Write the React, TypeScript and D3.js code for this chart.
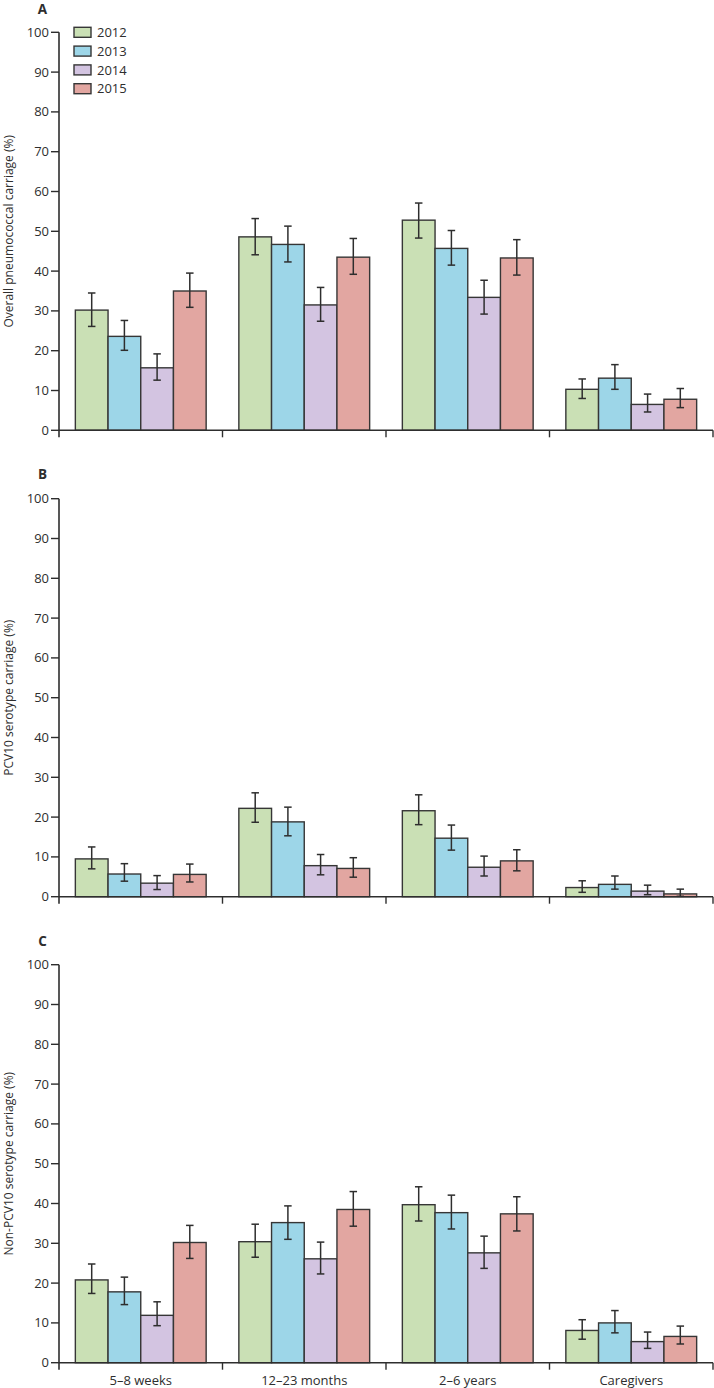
import React from "react";
import * as d3 from "d3";

const categories = ["5–8 weeks", "12–23 months", "2–6 years", "Caregivers"];
const years = ["2012", "2013", "2014", "2015"];
const colors = ["#cae0b5", "#9dd6e8", "#d3c4e1", "#e2a6a1"];
const yTicks = [0, 10, 20, 30, 40, 50, 60, 70, 80, 90, 100];

// values[year][category]
const overallValues = [
  [30.2, 48.6, 52.8, 10.3],
  [23.6, 46.7, 45.7, 13.1],
  [15.7, 31.5, 33.4, 6.5],
  [35.0, 43.5, 43.3, 7.8],
];
const overallLower = [
  [26.1, 44.1, 48.3, 8.0],
  [20.1, 42.3, 41.5, 10.3],
  [12.6, 27.4, 29.2, 4.6],
  [30.9, 39.2, 39.0, 5.7],
];
const overallUpper = [
  [34.5, 53.2, 57.1, 12.9],
  [27.6, 51.3, 50.2, 16.5],
  [19.2, 35.9, 37.7, 9.1],
  [39.5, 48.2, 47.9, 10.5],
];

const pcvValues = [
  [9.5, 22.2, 21.6, 2.3],
  [5.7, 18.8, 14.7, 3.1],
  [3.4, 7.8, 7.4, 1.4],
  [5.6, 7.1, 9.0, 0.7],
];
const pcvLower = [
  [7.0, 18.7, 18.1, 1.1],
  [3.9, 15.3, 11.7, 1.9],
  [1.8, 5.5, 5.2, 0.5],
  [3.7, 4.9, 6.5, 0.1],
];
const pcvUpper = [
  [12.5, 26.1, 25.6, 4.0],
  [8.3, 22.5, 18.0, 5.2],
  [5.3, 10.6, 10.2, 2.9],
  [8.2, 9.8, 11.8, 1.9],
];

const nonPcvValues = [
  [20.8, 30.4, 39.7, 8.1],
  [17.8, 35.2, 37.7, 10.0],
  [11.9, 26.1, 27.6, 5.3],
  [30.2, 38.5, 37.4, 6.6],
];
const nonPcvLower = [
  [17.4, 26.5, 35.6, 5.9],
  [14.6, 31.0, 33.6, 7.5],
  [9.3, 22.3, 23.7, 3.6],
  [26.2, 34.3, 33.1, 4.7],
];
const nonPcvUpper = [
  [24.8, 34.8, 44.2, 10.8],
  [21.5, 39.4, 42.1, 13.1],
  [15.3, 30.3, 31.8, 7.7],
  [34.5, 43.0, 41.7, 9.2],
];

const panels = [
  { letter: "A", label: "Overall pneumococcal carriage (%)", values: overallValues, lower: overallLower, upper: overallUpper, top: 32.3, letterY: 13.7 },
  { letter: "B", label: "PCV10 serotype carriage (%)", values: pcvValues, lower: pcvLower, upper: pcvUpper, top: 498.7, letterY: 479 },
  { letter: "C", label: "Non-PCV10 serotype carriage (%)", values: nonPcvValues, lower: nonPcvLower, upper: nonPcvUpper, top: 964.7, letterY: 946 },
];

const W = 714;
const H = 1388;
const axisX = 59;
const rightX = 713;
const plotH = 398;
const font = "'Open Sans', 'DejaVu Sans', sans-serif";
const ink = "#2e2e2e";

const xScale = d3.scaleBand<string>().domain(categories).range([axisX, rightX]).paddingInner(0).paddingOuter(0);
const bw = xScale.bandwidth();
const inner = d3.scaleBand<string>().domain(years).range([bw * 0.1, bw * 0.9]).paddingInner(0).paddingOuter(0);

function Panel({ p, isLast }: { p: typeof panels[number]; isLast: boolean }) {
  const y = d3.scaleLinear().domain([0, 100]).range([p.top + plotH, p.top]);
  const y0 = y(0);
  const capW = 7.5;
  return (
    <g>
      <text x={42.5} y={p.letterY} fontFamily={font} fontWeight={700} fontSize={13.5} textAnchor="middle" fill={ink}>
        {p.letter}
      </text>
      <text
        transform={`translate(13,${p.top + plotH / 2}) rotate(-90)`}
        fontFamily={font}
        fontSize={12}
        textAnchor="middle"
        fill={ink}
      >
        {p.label}
      </text>
      {categories.map((c, ci) => (
        <g key={c}>
          {years.map((yr, yi) => {
            const x = (xScale(c) as number) + (inner(yr) as number);
            const v = p.values[yi][ci];
            return (
              <rect
                key={yr}
                x={x}
                y={y(v)}
                width={inner.bandwidth()}
                height={y0 - y(v)}
                fill={colors[yi]}
                stroke="#363636"
                strokeWidth={1.4}
              />
            );
          })}
          {years.map((yr, yi) => {
            const cx = (xScale(c) as number) + (inner(yr) as number) + inner.bandwidth() / 2;
            const lo = y(p.lower[yi][ci]);
            const hi = y(p.upper[yi][ci]);
            return (
              <g key={"e" + yr} stroke={ink} strokeWidth={1.5}>
                <line x1={cx} x2={cx} y1={lo} y2={hi} />
                <line x1={cx - capW / 2} x2={cx + capW / 2} y1={lo} y2={lo} />
                <line x1={cx - capW / 2} x2={cx + capW / 2} y1={hi} y2={hi} />
              </g>
            );
          })}
        </g>
      ))}
      <line x1={axisX} x2={axisX} y1={p.top} y2={y0 + 7} stroke={ink} strokeWidth={1.6} />
      {yTicks.map((t) => (
        <g key={t}>
          <line x1={axisX - 8} x2={axisX} y1={y(t)} y2={y(t)} stroke={ink} strokeWidth={1.4} />
          <text x={axisX - 10} y={y(t)} dy="0.35em" textAnchor="end" fontFamily={font} fontSize={13} fill={ink}>
            {t}
          </text>
        </g>
      ))}
      <line x1={axisX} x2={rightX} y1={y0} y2={y0} stroke={ink} strokeWidth={1.6} />
      {categories.map((c) => (
        <line key={c} x1={(xScale(c) as number) + bw} x2={(xScale(c) as number) + bw} y1={y0} y2={y0 + 7} stroke={ink} strokeWidth={1.4} />
      ))}
      {isLast &&
        categories.map((c) => (
          <text key={c} x={(xScale(c) as number) + bw / 2} y={y0 + 21.8} textAnchor="middle" fontFamily={font} fontSize={13} fill={ink}>
            {c}
          </text>
        ))}
    </g>
  );
}

export default function App() {
  return (
    <svg width={W} height={H} style={{ position: "absolute", left: 0, top: 0, background: "#fff" }}>
      {panels.map((p, i) => (
        <Panel key={p.letter} p={p} isLast={i === panels.length - 1} />
      ))}
      {years.map((yr, i) => (
        <g key={yr} transform={`translate(74,${27.3 + i * 18.8})`}>
          <rect x={0} y={0} width={17} height={10} fill={colors[i]} stroke="#363636" strokeWidth={1.4} />
          <text x={23} y={5} dy="0.36em" fontFamily={font} fontSize={13} fill={ink}>
            {yr}
          </text>
        </g>
      ))}
    </svg>
  );
}
